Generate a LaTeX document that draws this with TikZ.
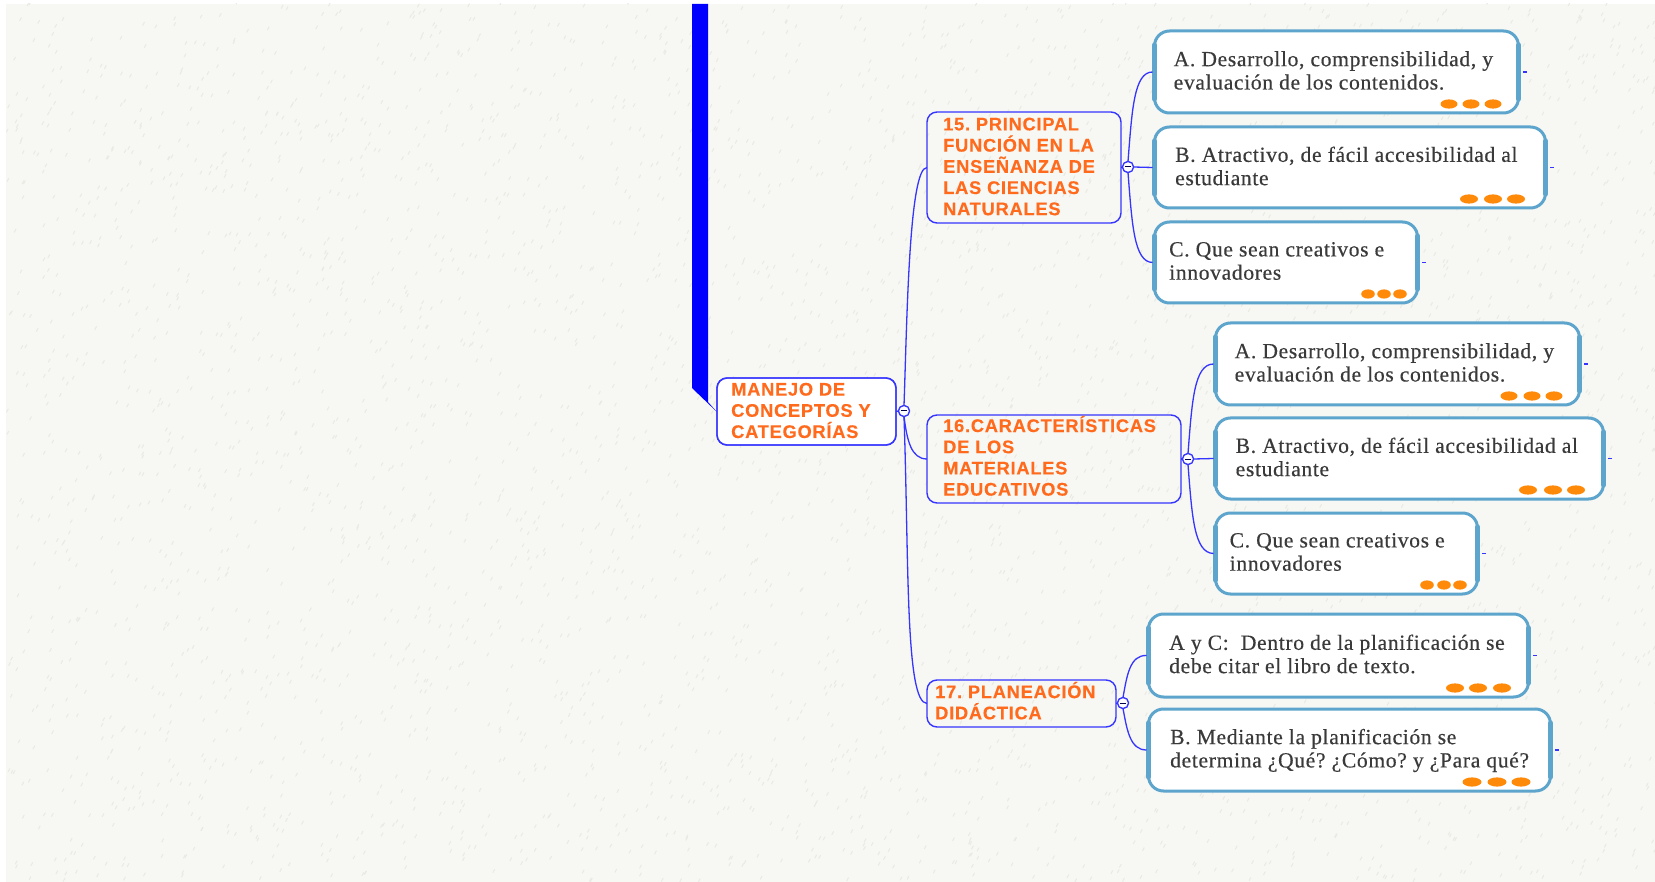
\documentclass[tikz,border=0pt]{standalone}
\usepackage{fontspec}
\setmainfont{Liberation Serif}
\newfontfamily\headfont[LetterSpace=4,FakeBold=0.2]{Liberation Sans Bold}
\newfontfamily\leaffont[FakeBold=0.4,LetterSpace=3]{Liberation Serif}
\definecolor{paper}{HTML}{F7F7F3}
\definecolor{speck}{HTML}{EAEAE4}
\definecolor{wire}{HTML}{3535FF}
\definecolor{headtext}{HTML}{FF6A1C}
\definecolor{leafline}{HTML}{5DA5CC}
\definecolor{dotcol}{HTML}{FF8A0A}
\definecolor{leaftext}{HTML}{3A3A3A}
\tikzset{
  topic/.style={draw=wire,line width=1.4pt,rounded corners=10pt,outer sep=0pt,anchor=north west,inner sep=0pt},
  topictext/.style={anchor=west,inner sep=0pt,align=left,font=\headfont\frenchspacing\fontsize{18.3}{21.2}\selectfont,text=headtext},
  leaf/.style={draw=leafline,fill=white,line width=3pt,rounded corners=15pt,outer sep=0pt,anchor=north west,inner sep=0pt},
  leaftextstyle/.style={anchor=west,inner sep=0pt,align=left,font=\leaffont\frenchspacing\fontsize{21.6}{23.3}\selectfont,text=leaftext},
  sidebar/.style={draw=leafline,line width=5pt,line cap=round},
  link/.style={draw=wire,line width=1.3pt},
  toggle/.style={circle,draw=wire,fill=white,line width=1.2pt,minimum size=11pt,inner sep=0pt,outer sep=0pt},
  stub/.style={draw=wire,line width=1.2pt}
}
% [raise], name, x, y, w, h, inset, text  (x,y,w,h give the outer edge)
\newcommand{\leafbox}[8][1.5]{%
  \pgfmathsetmacro{\lx}{#3+1.5}\pgfmathsetmacro{\ly}{#4+1}
  \pgfmathsetmacro{\lw}{#5-3}\pgfmathsetmacro{\lh}{#6-2}
  \node[leaf,minimum width=\lw pt,minimum height=\lh pt] (#2) at (\lx,\ly) {};
  \node[leaftextstyle] (#2t) at ([xshift=#7pt-1.5pt,yshift=#1pt]#2.west) {#8};
  \draw[sidebar] ([yshift=-14pt]#2.north west) -- ([yshift=14pt]#2.south west);
  \draw[sidebar] ([yshift=-14pt]#2.north east) -- ([yshift=14pt]#2.south east);
  \coordinate (#2s) at ([xshift=4.5pt]#2.east);
  \coordinate (#2e) at ([xshift=8.5pt]#2.east);
  \draw[stub] (#2s) -- (#2e);
  \coordinate (#2in) at ([xshift=-2pt]#2.west);
}
\newcommand{\leafdots}[5]{%
  \foreach \d in {#2,#3,#4}
    \fill[dotcol] ([xshift=-\d pt+1.5pt,yshift=9pt]#1.south east) ellipse [x radius=#5pt,y radius=4.6pt];
}
% name, x, y, w, h, inset, raise, text
\newcommand{\topicbox}[8]{%
  \node[topic,minimum width=#4pt,minimum height=#5pt] (#1) at (#2,#3) {};
  \node[topictext] (#1t) at ([xshift=#6pt,yshift=#7pt]#1.west) {#8};
}
\begin{document}
\begin{tikzpicture}[x=1pt,y=-1pt]
\useasboundingbox (0,0) rectangle (1655,882);
\fill[white] (0,0) rectangle (1655,882);
\fill[paper] (6,4) rectangle (1655,882);
\pgfmathsetseed{17}
\begin{scope}
\clip (6,4) rectangle (1655,882);
\foreach \i in {1,...,4200}{
  \pgfmathsetmacro{\xa}{6+1649*rnd}
  \pgfmathsetmacro{\ya}{4+878*rnd}
  \draw[speck,line width=1pt,line cap=round] (\xa,\ya) -- ++(1.6,-3);
}
\end{scope}

% blue bar
\fill[blue] (692,4) -- (708,4) -- (708,402) -- (717,412) -- (692,388) -- cycle;

% topics
\node[topic,fill=white,minimum width=179pt,minimum height=67pt] (mainbg) at (717,378) {};
\topicbox{main}{717}{378}{179}{67}{14}{1}{MANEJO DE\\CONCEPTOS Y\\CATEGORÍAS}
\topicbox{t15}{927}{112}{194}{111}{16}{1}{15. PRINCIPAL\\FUNCIÓN EN LA\\ENSEÑANZA DE\\LAS CIENCIAS\\NATURALES}
\topicbox{t16}{927}{415}{254}{88}{16}{3.2}{16.CARACTERÍSTICAS\\DE LOS\\MATERIALES\\EDUCATIVOS}
\topicbox{t17}{927}{680}{189}{47}{8}{2.8}{17. PLANEACIÓN\\DIDÁCTICA}

% toggles (positions)
\node[toggle] (c0) at (904,411) {};
\node[toggle] (c15) at (1128,167) {};
\node[toggle] (c16) at (1188,459) {};
\node[toggle] (c17) at (1123,703) {};

% leaves
\leafbox{a1}{1153}{30}{367}{84}{20.5}{A. Desarrollo, comprensibilidad, y\\evaluación de los contenidos.}
\leafbox{b1}{1153}{126}{394}{83}{22}{B. Atractivo, de fácil accesibilidad al\\estudiante}
\leafbox{c1}{1153}{221}{266}{83}{16}{C. Que sean creativos e\\innovadores}
\leafbox{a2}{1214}{322}{367}{84}{20.5}{A. Desarrollo, comprensibilidad, y\\evaluación de los contenidos.}
\leafbox{b2}{1214}{417}{391}{83}{21.5}{B. Atractivo, de fácil accesibilidad al\\estudiante}
\leafbox{c2}{1214}{512}{265}{83}{15.5}{C. Que sean creativos e\\innovadores}
\leafbox{ac}{1147}{613}{383}{85}{22}{A y C:\ \ Dentro de la planificación se\\debe citar el libro de texto.}
\leafbox[-0.5]{b3}{1147}{708}{405}{84}{23}{B. Mediante la planificación se\\determina ¿Qué? ¿Cómo? y ¿Para qué?}
\leafdots{a1}{71}{49}{27}{8.5}
\leafdots{b1}{78}{54}{31}{9}
\leafdots{c1}{51}{35}{19}{6.8}
\leafdots{a2}{72}{49}{27}{8.5}
\leafdots{b2}{77}{52}{29}{9}
\leafdots{c2}{52}{35}{19}{6.8}
\leafdots{ac}{75}{52}{28}{9}
\leafdots{b3}{80}{55}{31}{9.5}

% connectors
\draw[link] (main.east) -- (c0.west);
\draw[link] (c0.north) .. controls (907,320) and (909,167) .. (t15.west);
\draw[link] (c0.south) .. controls (907,440) and (911,459) .. (t16.west);
\draw[link] (c0.south) .. controls (909,560) and (905,703) .. (t17.west);
\draw[link] (t15.east) -- (c15.west);
\draw[link] (t16.east) -- (c16.west);
\draw[link] (t17.east) -- (c17.west);
\draw[link] (c15.north) .. controls (1132,110) and (1134,72) .. (a1in);
\draw[link] (c15.east) -- (b1in);
\draw[link] (c15.south) .. controls (1132,224) and (1134,262) .. (c1in);
\draw[link] (c16.north) .. controls (1192,402) and (1194,364) .. (a2in);
\draw[link] (c16.east) -- (b2in);
\draw[link] (c16.south) .. controls (1192,516) and (1194,553) .. (c2in);
\draw[link] (c17.north) .. controls (1127,675) and (1130,655) .. (acin);
\draw[link] (c17.south) .. controls (1127,730) and (1130,750) .. (b3in);
% redraw toggles on top
\foreach \c in {c0,c15,c16,c17}{
  \node[toggle] at (\c) {};
  \draw[draw=black!70!blue,line width=1pt] ([xshift=-3pt]\c.center) -- ([xshift=3pt]\c.center);
}
\end{tikzpicture}
\end{document}
